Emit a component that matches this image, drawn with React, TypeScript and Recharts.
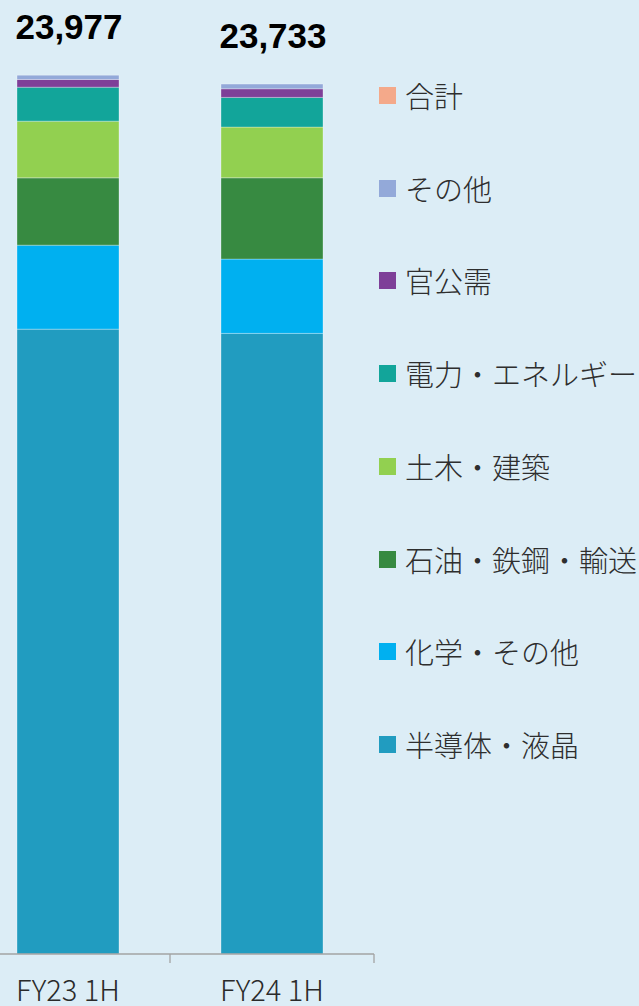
import React from 'react'
import { ComposedChart, Bar, Line, XAxis, YAxis, Legend, LabelList } from 'recharts'

// 受注高（百万円）
const periods = ['FY23 1H', 'FY24 1H']
const semiconductor = [17048, 16932] // 半導体・液晶
const chemical = [2291, 2027] // 化学・その他
const oilSteel = [1836, 2218] // 石油・鉄鋼・輸送
const civil = [1547, 1383] // 土木・建築
const power = [927, 810] // 電力・エネルギー
const government = [210, 235] // 官公需
const others = [117, 128] // その他
const totals = [23977, 23733] // 合計

// bottom to top
const series = [
  { key: 'semi', name: '半導体・液晶', values: semiconductor, color: '#219cc0' },
  { key: 'chem', name: '化学・その他', values: chemical, color: '#00b0f0' },
  { key: 'oil', name: '石油・鉄鋼・輸送', values: oilSteel, color: '#378a41' },
  { key: 'civil', name: '土木・建築', values: civil, color: '#92d050' },
  { key: 'power', name: '電力・エネルギー', values: power, color: '#12a59a' },
  { key: 'gov', name: '官公需', values: government, color: '#7e3f98' },
  { key: 'other', name: 'その他', values: others, color: '#93a9d9' },
]
const totalColor = '#f4a98a'

const data = periods.map((period, i) => {
  const row: Record<string, string | number> = { period, total: totals[i] }
  series.forEach((s) => {
    row[s.key] = s.values[i]
  })
  return row
})

const legendItems = [
  { name: '合計', color: totalColor },
  ...series.slice().reverse().map((s) => ({ name: s.name, color: s.color })),
]

const PeriodTick = (props: any) => {
  const { x, y, payload } = props
  const half = payload.offset || 0
  return (
    <g>
      <line x1={x + half} x2={x + half} y1={y} y2={y + 9} stroke="#a3a3a3" strokeWidth={1.3} />
      <text
        x={x}
        y={y + 47}
        textAnchor="middle"
        fontSize={29}
        fontWeight={300}
        fontFamily='"Noto Sans CJK JP", sans-serif'
        fill="#2a2a2a"
      >
        {payload.value}
      </text>
    </g>
  )
}

const TotalLabel = (props: any) => {
  const { x, y, value } = props
  return (
    <text
      x={x + 1}
      y={y - 36}
      textAnchor="middle"
      fontSize={35}
      fontWeight="bold"
      fontFamily='"Liberation Sans", Arial, sans-serif'
      fill="#000"
    >
      {Number(value).toLocaleString('en-US')}
    </text>
  )
}

const renderLegend = () => (
  <div style={{ fontFamily: '"Noto Sans CJK JP", sans-serif' }}>
    {legendItems.map((item) => (
      <div key={item.name} style={{ height: 92.75, display: 'flex', alignItems: 'center' }}>
        <span style={{ width: 17, height: 17, background: item.color, display: 'inline-block', marginRight: 9 }} />
        <span style={{ fontSize: 29, fontWeight: 300, color: '#2e2e2e', whiteSpace: 'nowrap', lineHeight: 1 }}>
          {item.name}
        </span>
      </div>
    ))}
  </div>
)

export default function App() {
  return (
    <div
      style={{
        position: 'absolute',
        left: 0,
        top: 0,
        width: 639,
        height: 1006,
        overflow: 'hidden',
        background: '#dcedf6',
      }}
    >
      <div style={{ position: 'absolute', left: -34, top: 0 }}>
        <ComposedChart
          width={673}
          height={1006}
          data={data}
          margin={{ top: 1, right: 265, bottom: 0, left: 0 }}
          barCategoryGap="25%"
        >
          <XAxis
            dataKey="period"
            height={52}
            interval={0}
            axisLine={{ stroke: '#a3a3a3', strokeWidth: 1.3 }}
            tickLine={false}
            tickSize={0}
            tickMargin={0}
            tick={<PeriodTick />}
          />
          <YAxis hide domain={[0, 26000]} />
          <Legend
            layout="vertical"
            align="center"
            verticalAlign="middle"
            content={renderLegend}
            wrapperStyle={{ left: 413, top: 49, width: 260 }}
          />
          {series.map((s) => (
            <Bar
              key={s.key}
              dataKey={s.key}
              name={s.name}
              stackId="a"
              fill={s.color}
              stroke="rgba(255,255,255,0.3)"
              strokeWidth={1}
              isAnimationActive={false}
            />
          ))}
          <Line
            dataKey="total"
            name="合計"
            stroke="none"
            dot={false}
            activeDot={false}
            legendType="none"
            isAnimationActive={false}
          >
            <LabelList dataKey="total" content={<TotalLabel />} />
          </Line>
        </ComposedChart>
      </div>
    </div>
  )
}
